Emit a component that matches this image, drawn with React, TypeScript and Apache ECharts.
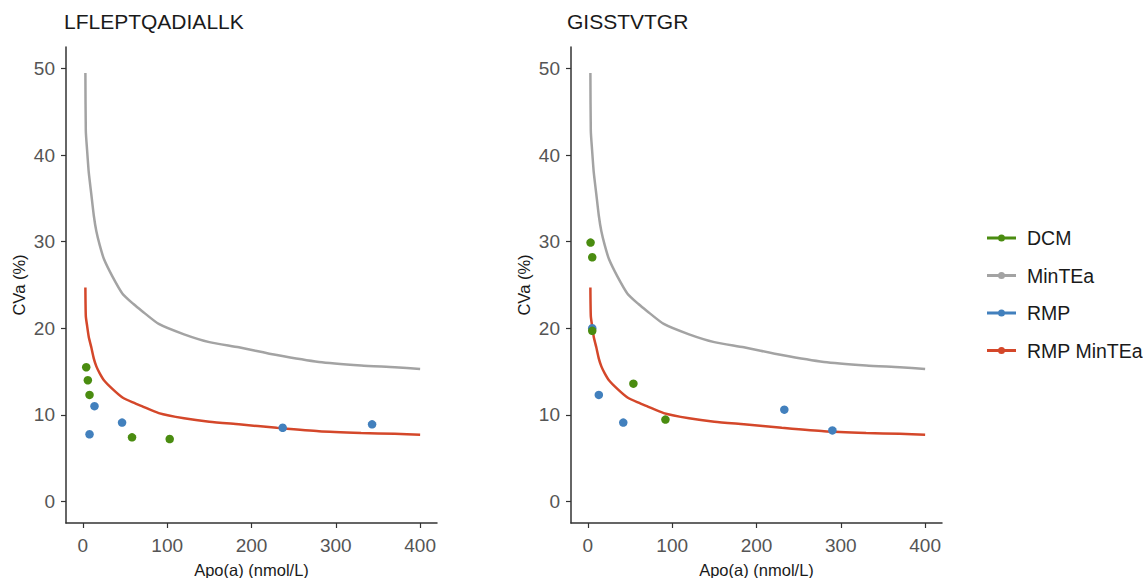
import React, { useEffect, useRef } from "react";
import * as echarts from "echarts";

const panelTitles = ["LFLEPTQADIALLK", "GISSTVTGR"];
const xTicks = [0, 100, 200, 300, 400];
const yTicks = [0, 10, 20, 30, 40, 50];

// curves (same in both panels)
const curveX = [3, 3.5, 5, 7, 10, 13, 16, 20, 25, 35, 47, 60, 70, 90, 120, 150, 185, 230, 280, 330, 370, 400];
const minTEaY = [49.5, 42.8, 40.6, 38, 35.5, 33, 31.2, 29.6, 28, 26, 24, 22.8, 22.0, 20.5, 19.3, 18.4, 17.8, 16.9, 16.1, 15.7, 15.5, 15.3];
const rmpMinTEaY = [24.7, 21.4, 20.3, 19, 17.8, 16.5, 15.6, 14.8, 14, 13, 12, 11.4, 11.0, 10.2, 9.6, 9.2, 8.9, 8.5, 8.1, 7.9, 7.8, 7.7];

// points, left panel
const dcmLeftX = [4, 5.9, 7.9, 58.3, 103];
const dcmLeftY = [15.5, 14.0, 12.3, 7.4, 7.2];
const rmpLeftX = [13.8, 7.9, 46.5, 237, 343];
const rmpLeftY = [11.0, 7.75, 9.1, 8.5, 8.9];

// points, right panel
const dcmRightX = [3.2, 5.2, 5.2, 54, 92];
const dcmRightY = [29.9, 28.2, 19.7, 13.6, 9.45];
const rmpRightX = [5.2, 13, 42, 233, 290];
const rmpRightY = [20.0, 12.3, 9.1, 10.6, 8.2];

const legendNames = ["DCM", "MinTEa", "RMP", "RMP MinTEa"];

const GREEN = "#4a8c10";
const GRAY = "#a3a3a3";
const BLUE = "#4280bd";
const RED = "#d4472a";

const zip = (xs: number[], ys: number[]) => xs.map((x, i) => [x, ys[i]]);

const ICON = "path://M0,2.5h29v3h-29z M11,4a3.5,3.5 0 1,1 7,0a3.5,3.5 0 1,1 -7,0z";

export default function App() {
  const ref = useRef<HTMLDivElement>(null);
  useEffect(() => {
    if (!ref.current) return;
    const chart = echarts.init(ref.current, undefined, { renderer: "svg" });
    const grids = [
      { left: 66, top: 47, width: 371, height: 476, containLabel: false, outerBoundsMode: "none" },
      { left: 571, top: 47, width: 371, height: 476, containLabel: false, outerBoundsMode: "none" },
    ];
    const axisLine = { show: true, onZero: false, lineStyle: { color: "#333333", width: 1.5 } };
    const axisTickX = { show: true, length: 5, lineStyle: { color: "#333333", width: 1.2 }, customValues: xTicks };
    const axisTickY = { show: true, length: 5, lineStyle: { color: "#333333", width: 1.2 }, customValues: yTicks };
    const xAxes = grids.map((_, i) => ({
      type: "value",
      gridIndex: i,
      min: -20,
      max: 420,
      axisLine,
      axisTick: axisTickX,
      splitLine: { show: false },
      axisLabel: { customValues: xTicks, color: "#555555", fontSize: 19, margin: 13 },
      name: "Apo(a) (nmol/L)",
      nameLocation: "middle",
      nameGap: 38,
      nameTextStyle: { color: "#1a1a1a", fontSize: 16.5 },
    }));
    const yAxes = grids.map((_, i) => ({
      type: "value",
      gridIndex: i,
      min: -2.5,
      max: 52.5,
      axisLine,
      axisTick: axisTickY,
      splitLine: { show: false },
      axisLabel: { customValues: yTicks, color: "#555555", fontSize: 19, margin: 11 },
      name: "CVa (%)",
      nameLocation: "middle",
      nameGap: 39,
      nameTextStyle: { color: "#1a1a1a", fontSize: 16.5 },
    }));
    const curveSeries = (i: number, name: string, ys: number[], color: string) => ({
      type: "line",
      name,
      xAxisIndex: i,
      yAxisIndex: i,
      data: zip(curveX, ys),
      showSymbol: false,
      symbol: "circle",
      smooth: 0.2,
      itemStyle: { color },
      lineStyle: { color, width: 2.5 },
      z: 2,
    });
    const pointSeries = (i: number, name: string, xs: number[], ys: number[], color: string, z: number) => ({
      type: "scatter",
      name,
      xAxisIndex: i,
      yAxisIndex: i,
      data: zip(xs, ys),
      symbol: "circle",
      symbolSize: 8.5,
      itemStyle: { color, opacity: 1 },
      z,
    });
    chart.setOption({
      animation: false,
      textStyle: { fontFamily: "Liberation Sans, Arial, sans-serif" },
      title: panelTitles.map((t, i) => ({
        text: t,
        left: i === 0 ? 64 : 567,
        top: 11,
        padding: 0,
        textStyle: { color: "#1a1a1a", fontSize: 21, fontWeight: "normal" },
      })),
      grid: grids,
      xAxis: xAxes,
      yAxis: yAxes,
      legend: {
        orient: "vertical",
        left: 982,
        top: 223,
        itemWidth: 29,
        itemHeight: 7,
        itemGap: 17.5,
        textStyle: { color: "#1a1a1a", fontSize: 19.5, lineHeight: 20, padding: [0, 0, 0, 6] },
        data: legendNames.map((n) => ({ name: n, icon: ICON })),
      },
      series: [
        curveSeries(0, "MinTEa", minTEaY, GRAY),
        curveSeries(0, "RMP MinTEa", rmpMinTEaY, RED),
        pointSeries(0, "RMP", rmpLeftX, rmpLeftY, BLUE, 3),
        pointSeries(0, "DCM", dcmLeftX, dcmLeftY, GREEN, 4),
        curveSeries(1, "MinTEa", minTEaY, GRAY),
        curveSeries(1, "RMP MinTEa", rmpMinTEaY, RED),
        pointSeries(1, "RMP", rmpRightX, rmpRightY, BLUE, 3),
        pointSeries(1, "DCM", dcmRightX, dcmRightY, GREEN, 4),
      ],
    });
    return () => chart.dispose();
  }, []);
  return (
    <div
      ref={ref}
      style={{ position: "fixed", left: 0, top: 0, width: 1143, height: 578, background: "#ffffff" }}
    />
  );
}
